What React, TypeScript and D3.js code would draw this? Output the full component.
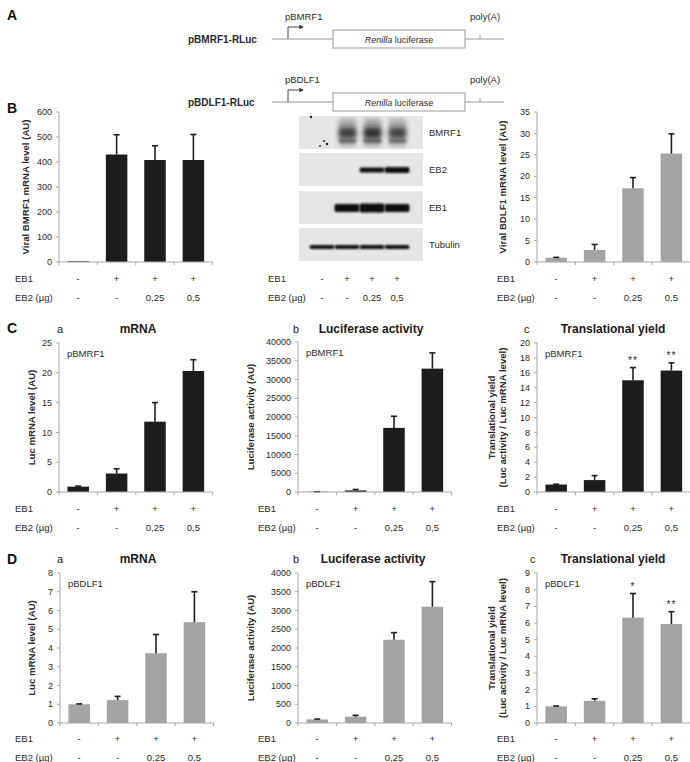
import React from 'react';
import * as d3 from 'd3';

const W = 690;
const H = 762;
const FONT = "'Liberation Sans', Arial, Helvetica, sans-serif";

// ---------- data ----------
const eb1Labels = ['-', '+', '+', '+'];
const eb2Labels = ['-', '-', '0,25', '0,5'];

// Panel B
const bBmrf1Values = [3, 430, 408, 408];
const bBmrf1Errors = [0, 79, 57, 102];
const bBdlf1Values = [1.0, 2.8, 17.2, 25.3];
const bBdlf1Errors = [0.08, 1.3, 2.5, 4.6];

// Western blot (relative band intensities per lane)
const blotRows = ['BMRF1', 'EB2', 'EB1', 'Tubulin'];
const bmrf1Signal = [0, 0.85, 0.95, 0.8];
const eb2Signal = [0, 0, 0.8, 1];
const eb1Signal = [0, 1, 1.15, 1];
const tubulinSignal = [1, 1, 1, 1];

// Panel C (pBMRF1)
const cMrnaValues = [0.9, 3.1, 11.8, 20.3];
const cMrnaErrors = [0.1, 0.8, 3.2, 1.9];
const cLucValues = [60, 420, 17100, 32900];
const cLucErrors = [20, 250, 3100, 4200];
const cYieldValues = [1.0, 1.6, 15.0, 16.3];
const cYieldErrors = [0.05, 0.6, 1.7, 1.05];
const cYieldStars = ['', '', '**', '**'];

// Panel D (pBDLF1)
const dMrnaValues = [1.0, 1.22, 3.72, 5.38];
const dMrnaErrors = [0.02, 0.2, 1.0, 1.62];
const dLucValues = [95, 170, 2220, 3100];
const dLucErrors = [10, 35, 190, 670];
const dYieldValues = [1.0, 1.33, 6.32, 5.94];
const dYieldErrors = [0.02, 0.12, 1.45, 0.74];
const dYieldStars = ['', '', '*', '**'];

// Panel A constructs
const constructNames = ['pBMRF1-RLuc', 'pBDLF1-RLuc'];
const promoterNames = ['pBMRF1', 'pBDLF1'];

const BLACK = '#1c1c1c';
const GRAY = '#a4a4a4';
const AXIS = '#a8a8a8';
const TEXT = '#2a2a2a';

// ---------- components ----------
type PanelProps = {
  x0: number;
  top: number;
  bottom: number;
  values: number[];
  errors: number[];
  max: number;
  step: number;
  color: string;
  yLabel: string[];
  yLabelX: number;
  note: string;
  stars?: string[];
  ebX: number;
  ebY: number;
};

function BarPanel(p: PanelProps) {
  const width = 153.6;
  const idx = d3.range(p.values.length);
  const x = d3
    .scaleBand<number>()
    .domain(idx)
    .range([p.x0, p.x0 + width])
    .paddingInner(0.44)
    .paddingOuter(0.22);
  const y = d3.scaleLinear().domain([0, p.max]).range([p.bottom, p.top]);
  const ticks = d3.range(0, p.max + p.step / 2, p.step);
  const bounds = d3.range(p.values.length + 1).map((i) => p.x0 + (i * width) / p.values.length);
  const cx = (i: number) => (x(i) as number) + x.bandwidth() / 2;
  const midY = (p.top + p.bottom) / 2;
  return (
    <g fontFamily={FONT}>
      {/* bars */}
      {idx.map((i) => (
        <rect
          key={'b' + i}
          x={x(i)}
          y={y(p.values[i])}
          width={x.bandwidth()}
          height={p.bottom - y(p.values[i])}
          fill={p.color}
        />
      ))}
      {/* error bars */}
      {idx.map((i) => {
        const e = p.errors[i];
        if (!e) return null;
        const yt = y(p.values[i] + e);
        return (
          <g key={'e' + i} stroke="#202020" strokeWidth={1.6}>
            <line x1={cx(i)} x2={cx(i)} y1={y(p.values[i])} y2={yt} />
            <line x1={cx(i) - 3} x2={cx(i) + 3} y1={yt} y2={yt} />
          </g>
        );
      })}
      {/* stars */}
      {p.stars &&
        idx.map((i) =>
          p.stars![i] ? (
            <text
              key={'s' + i}
              x={cx(i)}
              y={y(p.values[i] + p.errors[i]) - 3.5}
              textAnchor="middle"
              fontSize={10}
              letterSpacing={1}
              fill={TEXT}
            >
              {p.stars![i]}
            </text>
          ) : null
        )}
      {/* y axis */}
      <line x1={p.x0} x2={p.x0} y1={p.top} y2={p.bottom} stroke={AXIS} />
      {ticks.map((t) => (
        <g key={'t' + t}>
          <line x1={p.x0 - 3} x2={p.x0} y1={y(t)} y2={y(t)} stroke={AXIS} />
          <text x={p.x0 - 7} y={y(t)} dy="0.35em" textAnchor="end" fontSize={9} fill={TEXT}>
            {t}
          </text>
        </g>
      ))}
      {/* x axis */}
      <line x1={p.x0} x2={p.x0 + width} y1={p.bottom} y2={p.bottom} stroke={AXIS} />
      {bounds.map((b, i) => (
        <line key={'xb' + i} x1={b} x2={b} y1={p.bottom} y2={p.bottom + 3} stroke={AXIS} />
      ))}
      {/* y label */}
      {p.yLabel.map((l, i) => (
        <text
          key={'yl' + i}
          transform={`translate(${p.yLabelX + i * 11},${midY}) rotate(-90)`}
          dy="0.35em"
          textAnchor="middle"
          fontSize={9.6}
          fontWeight="bold"
          fill={TEXT}
        >
          {l}
        </text>
      ))}
      {/* in-plot note */}
      <text x={p.x0 + 8} y={p.top + 14} fontSize={9.5} fill={TEXT}>
        {p.note}
      </text>
      <EbRows centers={idx.map(cx)} labelX={p.ebX} y={p.ebY} />
    </g>
  );
}

function EbRows({ centers, labelX, y }: { centers: number[]; labelX: number; y: number }) {
  return (
    <g fontFamily={FONT} fontSize={9.5} fill={TEXT}>
      <text x={labelX} y={y}>EB1</text>
      <text x={labelX} y={y + 19}>EB2 (µg)</text>
      {centers.map((c, i) => (
        <g key={i}>
          <text x={c} y={y} textAnchor="middle">{eb1Labels[i]}</text>
          <text x={c} y={y + 19} textAnchor="middle">{eb2Labels[i]}</text>
        </g>
      ))}
    </g>
  );
}

function Blot() {
  const lanes = d3.range(4);
  const lx = d3.scalePoint<number>().domain(lanes).range([322, 397]);
  const rowTops = [116, 153, 191, 228];
  const rowH = 33;
  const left = 299;
  const right = 423;
  const laneW = 25;
  const bandSpec: { signal: number[]; cy: number; h: number }[] = [
    { signal: bmrf1Signal, cy: 133, h: 10 },
    { signal: eb2Signal, cy: 170, h: 6 },
    { signal: eb1Signal, cy: 208, h: 8 },
    { signal: tubulinSignal, cy: 247, h: 4 },
  ];
  return (
    <g fontFamily={FONT}>
      <defs>
        <filter id="blur1" x="-20%" y="-50%" width="140%" height="200%">
          <feGaussianBlur stdDeviation="1.1" />
        </filter>
        <filter id="blur3" x="-30%" y="-50%" width="160%" height="200%">
          <feGaussianBlur stdDeviation="2.6" />
        </filter>
      </defs>
      {rowTops.map((t, r) => (
        <rect key={r} x={left} y={t} width={right - left} height={rowH} fill="#e6e6e6" />
      ))}
      {/* BMRF1 smear */}
      {lanes.map((l) =>
        bmrf1Signal[l] > 0 ? (
          <g key={'sm' + l}>
            <rect
              x={(lx(l) as number) - 8}
              y={119}
              width={17}
              height={27}
              fill="#3a3a3a"
              opacity={0.45 * bmrf1Signal[l]}
              filter="url(#blur3)"
            />
            <rect
              x={(lx(l) as number) - 8}
              y={128}
              width={17}
              height={10}
              fill="#151515"
              opacity={0.85 * bmrf1Signal[l]}
              filter="url(#blur3)"
            />
            <rect
              x={(lx(l) as number) - 8}
              y={139}
              width={17}
              height={4}
              fill="#444"
              opacity={0.6 * bmrf1Signal[l]}
              filter="url(#blur1)"
            />
          </g>
        ) : null
      )}
      {/* specks in lane 1 */}
      <circle cx={311} cy={117} r={1.2} fill="#222" />
      <circle cx={324} cy={141} r={1} fill="#222" />
      <circle cx={327} cy={144} r={1.3} fill="#222" />
      <circle cx={320} cy={146} r={0.9} fill="#333" />
      {/* sharp bands */}
      {bandSpec.slice(1).map((b, r) =>
        lanes.map((l) =>
          b.signal[l] > 0 ? (
            <rect
              key={r + '-' + l}
              x={(lx(l) as number) - laneW / 2}
              y={b.cy - (b.h * b.signal[l]) / 2}
              width={laneW}
              height={b.h * b.signal[l]}
              rx={2}
              fill="#101010"
              filter="url(#blur1)"
            />
          ) : null
        )
      )}
      {blotRows.map((name, r) => (
        <text key={name} x={429} y={rowTops[r] + rowH / 2} dy="0.35em" fontSize={9.5} fill={TEXT}>
          {name}
        </text>
      ))}
      <EbRows centers={lanes.map((l) => lx(l) as number)} labelX={268} y={282} />
    </g>
  );
}

function Constructs() {
  const lineYs = [39, 102];
  return (
    <g fontFamily={FONT} fill={TEXT}>
      <defs>
        <marker id="arrowHead" viewBox="0 0 6 6" refX="5" refY="3" markerWidth="5" markerHeight="5" orient="auto">
          <path d="M0,0 L6,3 L0,6 z" fill="#333" />
        </marker>
      </defs>
      {constructNames.map((name, i) => {
        const ly = lineYs[i];
        return (
          <g key={name}>
            <text x={188} y={ly + 4} fontSize={10} fontWeight="bold">
              {name}
            </text>
            <line x1={272} x2={504} y1={ly} y2={ly} stroke="#9a9a9a" />
            <rect x={333} y={ly - 9} width={132} height={18} fill="#fff" stroke="#9a9a9a" />
            <text x={399} y={ly + 3.5} fontSize={9} textAnchor="middle">
              <tspan fontStyle="italic">Renilla</tspan> luciferase
            </text>
            <path
              d={`M288,${ly} L288,${ly - 12} L303,${ly - 12}`}
              fill="none"
              stroke="#333"
              strokeWidth={0.9}
              markerEnd="url(#arrowHead)"
            />
            <text x={285} y={ly - 19} fontSize={9.5}>
              {promoterNames[i]}
            </text>
            <line x1={480} x2={480} y1={ly - 4} y2={ly} stroke="#9a9a9a" />
            <text x={470} y={ly - 19} fontSize={9.5}>
              poly(A)
            </text>
          </g>
        );
      })}
    </g>
  );
}

function Title({ letter, lx, title, cx, y }: { letter: string; lx: number; title: string; cx: number; y: number }) {
  return (
    <g fontFamily={FONT} fill="#1a1a1a">
      <text x={lx} y={y} fontSize={11}>{letter}</text>
      <text x={cx} y={y} fontSize={12} fontWeight="bold" textAnchor="middle">{title}</text>
    </g>
  );
}

export default function App() {
  return (
    <svg
      width={W}
      height={H}
      viewBox={`0 0 ${W} ${H}`}
      style={{ position: 'absolute', left: 0, top: 0, background: '#fff' }}
    >
      <rect width={W} height={H} fill="#fff" />
      {/* panel letters */}
      <g fontFamily={FONT} fontWeight="bold" fontSize={14} fill="#111">
        <text x={7} y={20}>A</text>
        <text x={7} y={113}>B</text>
        <text x={7} y={333}>C</text>
        <text x={7} y={564}>D</text>
      </g>
      <Constructs />

      {/* Row B */}
      <BarPanel
        x0={59} top={112} bottom={262}
        values={bBmrf1Values} errors={bBmrf1Errors}
        max={600} step={100} color={BLACK}
        yLabel={['Viral BMRF1 mRNA level (AU)']} yLabelX={26}
        note="" ebX={15} ebY={282}
      />
      <Blot />
      <BarPanel
        x0={537} top={112} bottom={262}
        values={bBdlf1Values} errors={bBdlf1Errors}
        max={35} step={5} color={GRAY}
        yLabel={['Viral BDLF1 mRNA level (AU)']} yLabelX={503}
        note="" ebX={497} ebY={282}
      />

      {/* Row C */}
      <Title letter="a" lx={57} title="mRNA" cx={138} y={333} />
      <Title letter="b" lx={293} title="Luciferase activity" cx={371} y={333} />
      <Title letter="c" lx={524} title="Translational yield" cx={613} y={333} />
      <BarPanel
        x0={59} top={343} bottom={492}
        values={cMrnaValues} errors={cMrnaErrors}
        max={25} step={5} color={BLACK}
        yLabel={['Luc mRNA level (AU)']} yLabelX={32}
        note="pBMRF1" ebX={15} ebY={512}
      />
      <BarPanel
        x0={298} top={342} bottom={492}
        values={cLucValues} errors={cLucErrors}
        max={40000} step={5000} color={BLACK}
        yLabel={['Luciferase activity (AU)']} yLabelX={251}
        note="pBMRF1" ebX={258} ebY={512}
      />
      <BarPanel
        x0={537} top={343} bottom={492}
        values={cYieldValues} errors={cYieldErrors}
        max={20} step={2} color={BLACK}
        yLabel={['Translational yield', '(Luc activity / Luc mRNA level)']} yLabelX={492}
        note="pBMRF1" stars={cYieldStars} ebX={497} ebY={512}
      />

      {/* Row D */}
      <Title letter="a" lx={57} title="mRNA" cx={138} y={563} />
      <Title letter="b" lx={293} title="Luciferase activity" cx={373} y={563} />
      <Title letter="c" lx={530} title="Translational yield" cx={613} y={563} />
      <BarPanel
        x0={60} top={573} bottom={723}
        values={dMrnaValues} errors={dMrnaErrors}
        max={8} step={1} color={GRAY}
        yLabel={['Luc mRNA level (AU)']} yLabelX={32}
        note="pBDLF1" ebX={15} ebY={742}
      />
      <BarPanel
        x0={298} top={573} bottom={723}
        values={dLucValues} errors={dLucErrors}
        max={4000} step={500} color={GRAY}
        yLabel={['Luciferase activity (AU)']} yLabelX={251}
        note="pBDLF1" ebX={258} ebY={742}
      />
      <BarPanel
        x0={537} top={573} bottom={723}
        values={dYieldValues} errors={dYieldErrors}
        max={9} step={1} color={GRAY}
        yLabel={['Translational yield', '(Luc activity / Luc mRNA level)']} yLabelX={492}
        note="pBDLF1" stars={dYieldStars} ebX={497} ebY={742}
      />
    </svg>
  );
}
